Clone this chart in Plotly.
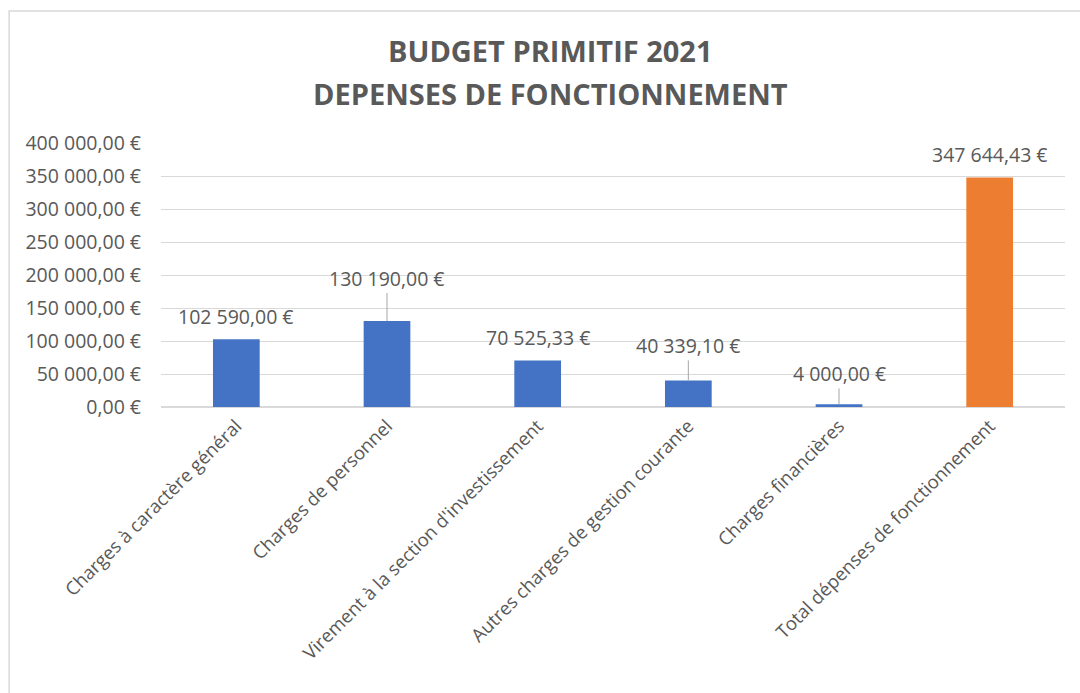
import plotly.graph_objects as go

categories = [
    "Charges à caractère général",
    "Charges de personnel",
    "Virement à la section d'investissement",
    "Autres charges de gestion courante",
    "Charges financières",
    "Total dépenses de fonctionnement",
]
values = [102590.00, 130190.00, 70525.33, 40339.10, 4000.00, 347644.43]
bar_colors = ["#4472C4", "#4472C4", "#4472C4", "#4472C4", "#4472C4", "#ED7D31"]
label_offsets = [-23, -43, -23, -35, -31, -23]
leader_lines = [False, True, False, True, True, False]
y_tickvals = [0, 50000, 100000, 150000, 200000, 250000, 300000, 350000, 400000]
y_ticktext = ["0,00 €", "50 000,00 €", "100 000,00 €", "150 000,00 €", "200 000,00 €",
              "250 000,00 €", "300 000,00 €", "350 000,00 €", "400 000,00 €"]
title_lines = ["BUDGET PRIMITIF 2021", "DEPENSES DE FONCTIONNEMENT"]


def fmt(v):
    return f"{v:,.2f}".replace(",", " ").replace(".", ",") + " €"


FONT = "Open Sans"
GREY = "#595959"
FS = 19.5

fig = go.Figure()
fig.add_trace(go.Bar(
    x=categories, y=values, marker=dict(color=bar_colors, line=dict(width=0)),
    width=0.31, hoverinfo="x+y",
))

annotations = []
for c, v, off, lead in zip(categories, values, label_offsets, leader_lines):
    if lead:
        annotations.append(dict(
            x=c, y=v, xref="x", yref="y", text=fmt(v), showarrow=True,
            ax=0, ay=off, arrowhead=0, arrowwidth=1, arrowcolor="#a6a6a6",
            standoff=0, font=dict(family=FONT, size=FS, color=GREY),
        ))
    else:
        annotations.append(dict(
            x=c, y=v, xref="x", yref="y", text=fmt(v), showarrow=False,
            yshift=-off, font=dict(family=FONT, size=FS, color=GREY),
        ))

for line, ypos in zip(title_lines, [1.352, 1.186]):
    annotations.append(dict(
        x=0.431, y=ypos, xref="paper", yref="paper", yanchor="middle",
        text=f"<b>{line}</b>", showarrow=False,
        font=dict(family=FONT, size=29, color=GREY), align="center",
    ))

fig.update_layout(
    width=1080, height=693,
    margin=dict(l=161, r=15, t=143, b=286),
    paper_bgcolor="white", plot_bgcolor="white",
    showlegend=False,
    annotations=annotations,
    font=dict(family=FONT, size=FS, color=GREY),
    shapes=[dict(type="rect", xref="paper", yref="paper",
                 x0=-0.168, x1=1.05, y0=-1.2, y1=1.5,
                 line=dict(color="#d9d9d9", width=1.5), layer="below")],
)
fig.update_yaxes(
    range=[0, 400000], tickvals=y_tickvals, ticktext=y_ticktext,
    showgrid=True, gridcolor="#d9d9d9", gridwidth=1,
    zeroline=True, zerolinecolor="#d9d9d9", showline=False,
    tickfont=dict(family=FONT, size=FS, color=GREY), ticks="", ticklabelstandoff=19,
)
fig.update_xaxes(
    tickangle=-45, showline=True, linecolor="#d9d9d9", linewidth=1,
    tickfont=dict(family=FONT, size=18.5, color=GREY), ticks="",
)

fig.write_html("out.html", config={"displayModeBar": False},
               post_script="document.body.style.margin='0';")
